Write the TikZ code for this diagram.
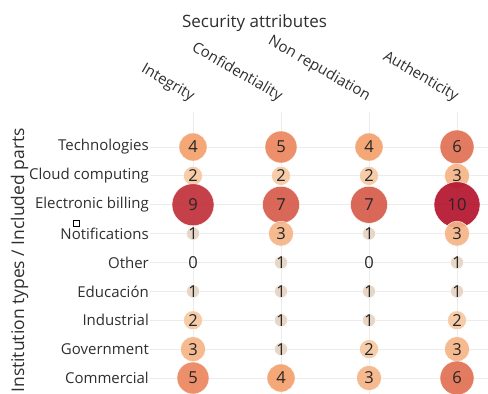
\documentclass[tikz,border=0pt]{standalone}
\usepackage{fontspec}
\setmainfont{Open Sans}
\usetikzlibrary{positioning}

% Farben
\definecolor{schrift}{HTML}{2E2E2E}
\definecolor{gitter}{HTML}{EBEBEB}
\definecolor{w0}{HTML}{FFFFFF}
\definecolor{w1}{HTML}{E6D3C1}
\definecolor{w2}{HTML}{F5C8A2}
\definecolor{w3}{HTML}{F5B487}
\definecolor{w4}{HTML}{F3A06B}
\definecolor{w5}{HTML}{EA865D}
\definecolor{w6}{HTML}{E17052}
\definecolor{w7}{HTML}{D65B4A}
\definecolor{w8}{HTML}{C9443F}
\definecolor{w9}{HTML}{C0303A}
\definecolor{w10}{HTML}{B4132C}

\begin{document}
\begin{tikzpicture}[x=1pt, y=-1pt,
  achse/.style={text=schrift, font=\fontsize{15}{15}\selectfont, inner sep=0pt},
  blase/.style={circle, draw=white, line width=0.4pt, fill opacity=0.92, inner sep=0pt},
  zahl/.style={text=black!85, font=\fontsize{16.5}{16.5}\selectfont, inner sep=0pt}]
\useasboundingbox (0,0) rectangle (488,394);

% Titel
\node[achse, font=\fontsize{17}{17}\selectfont, anchor=base] (titel) at (254.5,27) {Security attributes};
\node[achse, font=\fontsize{17.5}{17.5}\selectfont, rotate=90, anchor=base east] (ytitel) at (24,128) {Institution types / Included parts};

% Gitter
\foreach \j in {1,...,4}
  \draw[gitter, line width=1pt] ({193+(\j-1)*88},112) -- +(0,282); % Vertikal
\foreach \i in {1,...,9}
  \draw[gitter, line width=1pt] (150,{147+(\i-1)*28.875}) -- (488,{147+(\i-1)*28.875}); % Horizontal

% Spalten
\foreach \name [count=\j] in {Integrity,Confidentiality,Non repudiation,Authenticity}
  \node[achse, rotate=-30, anchor=base east] (sp\j) at ({191+(\j-1)*88},101) {\name};

% Zeilen
\foreach \name [count=\i] in {Technologies,Cloud computing,Electronic billing,Notifications,Other,Educación,Industrial,Government,Commercial}
  \node[achse, anchor=east] (ze\i) at (149,{147+(\i-1)*28.875}) {\name};

% Blasen
\foreach \zeile [count=\i] in {{4,5,4,6},{2,2,2,3},{9,7,7,10},{1,3,1,3},{0,1,0,1},{1,1,1,1},{2,1,1,2},{3,1,2,3},{5,4,3,6}}
  \foreach \w [count=\j] in \zeile {
    \pgfmathsetmacro\r{{0,6.5,9.5,12.5,14,16,17,18.5,20,21,23}[\w]}
    \ifnum\w>0
      \node[blase, fill=w\w, minimum size=2*\r] (b\i\j) at ({193+(\j-1)*88},{147+(\i-1)*28.875}) {};
    \fi
    \node[zahl] (z\i\j) at ({193+(\j-1)*88},{147+(\i-1)*28.875}) {\w};
  }

% Markierung
\draw[black, line width=0.6pt, fill=white] (73,220) rectangle (79,226);
\end{tikzpicture}
\end{document}
